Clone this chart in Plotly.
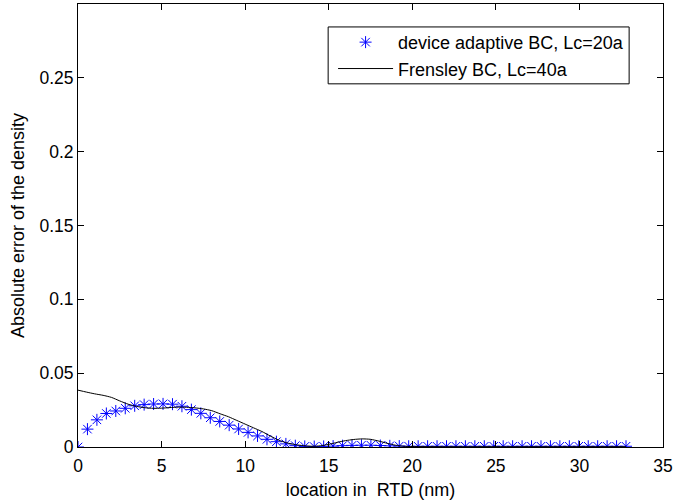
import plotly.graph_objects as go

# Device adaptive BC, Lc=20a (asterisk markers)
star_x = [0.0, 0.565, 1.131, 1.696, 2.261, 2.827, 3.392, 3.957, 4.522, 5.088,
          5.653, 6.218, 6.784, 7.349, 7.914, 8.480, 9.045, 9.610, 10.175, 10.741,
          11.306, 11.871, 12.437, 13.002, 13.567, 14.133, 14.698, 15.263, 15.828, 16.394,
          16.959, 17.524, 18.090, 18.655, 19.220, 19.785, 20.351, 20.916, 21.481, 22.047,
          22.612, 23.177, 23.743, 24.308, 24.873, 25.438, 26.004, 26.569, 27.134, 27.700,
          28.265, 28.830, 29.396, 29.961, 30.526, 31.091, 31.657, 32.222, 32.787]
star_y = [0.0, 0.0121, 0.0184, 0.0227, 0.0244, 0.0262, 0.0279, 0.0287, 0.0291, 0.0292,
          0.0290, 0.0276, 0.0253, 0.0228, 0.0198, 0.0173, 0.0148, 0.0122, 0.0099, 0.0075,
          0.0052, 0.0036, 0.0021, 0.0009, 0.0004, 0.0003, 0.0004, 0.0006, 0.0009, 0.0011,
          0.0012, 0.0012, 0.0010, 0.0008, 0.0006, 0.0005, 0.0005, 0.0005, 0.0005, 0.0005,
          0.0005, 0.0005, 0.0005, 0.0005, 0.0005, 0.0005, 0.0005, 0.0005, 0.0005, 0.0005,
          0.0005, 0.0005, 0.0005, 0.0005, 0.0005, 0.0005, 0.0005, 0.0005, 0.0005]

# Frensley BC, Lc=40a (solid line)
line_x = [0.0, 0.5, 1.0, 1.5, 2.0, 2.5, 3.0, 3.5, 4.0, 4.5, 5.0, 5.5, 6.0, 6.5, 7.0,
          7.5, 8.0, 8.5, 9.0, 9.5, 10.0, 10.5, 11.0, 11.5, 12.0, 12.5, 13.0, 13.5, 14.0,
          14.5, 15.0, 15.5, 16.0, 16.5, 17.0, 17.5, 18.0, 18.5, 19.0, 19.5, 20.0, 22.0,
          25.0, 28.0, 30.0, 32.787]
line_y = [0.0385, 0.0372, 0.0360, 0.0350, 0.0336, 0.0312, 0.0290, 0.0275, 0.0266, 0.0262,
          0.0263, 0.0267, 0.0270, 0.0269, 0.0265, 0.0258, 0.0246, 0.0225, 0.0205, 0.0180,
          0.0155, 0.0130, 0.0105, 0.0075, 0.0047, 0.0028, 0.0016, 0.0009, 0.0005, 0.0008,
          0.0018, 0.0031, 0.0043, 0.0051, 0.0055, 0.0052, 0.0040, 0.0025, 0.0012, 0.0005,
          0.0003, 0.0002, 0.0002, 0.0002, 0.0002, 0.0002]

x_ticks = [0, 5, 10, 15, 20, 25, 30, 35]
y_ticks = [0, 0.05, 0.1, 0.15, 0.2, 0.25, 0.3]
y_tick_text = ["0", "0.05", "0.1", "0.15", "0.2", "0.25", ""]

FONT = "Liberation Sans, Arial, Helvetica, sans-serif"

fig = go.Figure()
fig.add_trace(go.Scatter(
    x=star_x, y=star_y, mode="markers",
    name="device adaptive BC, Lc=20a",
    marker=dict(symbol="asterisk-open", size=10, color="#0000ff",
                line=dict(color="#0000ff", width=1)),
))
fig.add_trace(go.Scatter(
    x=line_x, y=line_y, mode="lines",
    name="Frensley BC, Lc=40a",
    line=dict(color="black", width=1, shape="spline", smoothing=0.6),
))

axis_common = dict(
    showline=True, linecolor="black", linewidth=1, mirror="ticks",
    ticks="inside", ticklen=6, tickcolor="black", tickwidth=1,
    showgrid=False, zeroline=False,
    tickfont=dict(family=FONT, size=17.5, color="black"),
)

fig.update_layout(
    width=676, height=502,
    margin=dict(l=78, r=11, t=3, b=55),
    paper_bgcolor="white", plot_bgcolor="white",
    font=dict(family=FONT, size=18, color="black"),
    showlegend=True,
    legend=dict(
        x=0.942, y=0.955, xanchor="right", yanchor="top",
        borderwidth=0, bgcolor="rgba(0,0,0,0)",
        font=dict(family=FONT, size=18, color="black"),
        itemwidth=55,
    ),
    shapes=[dict(
        type="rect", xref="paper", yref="paper",
        x0=0.4276, x1=0.9421, y0=0.8198, y1=0.9482,
        line=dict(color="black", width=1), fillcolor="white", layer="above",
    )],
    xaxis=dict(
        range=[0, 35], tickvals=x_ticks, ticklabelstandoff=3,
        title=dict(text="location in  RTD (nm)", standoff=8,
                   font=dict(family=FONT, size=18)),
        **axis_common,
    ),
    yaxis=dict(
        range=[0, 0.3], tickvals=y_ticks, ticktext=y_tick_text,
        title=dict(text="Absolute error of the density", standoff=10,
                   font=dict(family=FONT, size=18)),
        **axis_common,
    ),
)

fig.write_html("out.html")
